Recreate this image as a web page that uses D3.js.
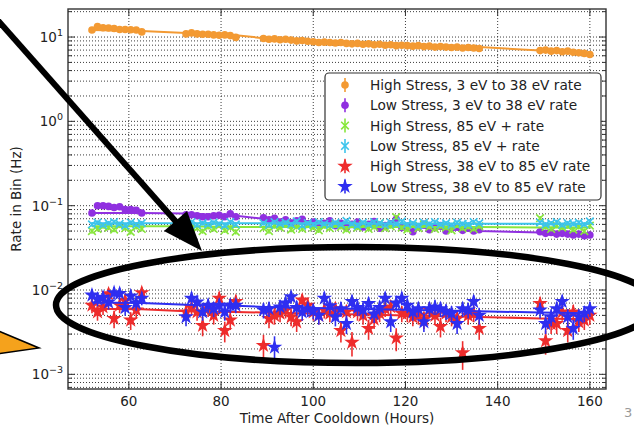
<!DOCTYPE html>
<html>
<head>
<meta charset="utf-8">
<script src="https://cdn.jsdelivr.net/npm/d3@7"></script>
<style>
  body { margin: 0; background: #fff; }
  text { font-family: "DejaVu Sans", sans-serif; }
</style>
</head>
<body>
<script>
// time bins (hours after cooldown)
const hours = [
  52.0, 53.2, 54.4, 55.6, 56.8, 58.0, 59.2, 60.4, 61.6, 62.8,
  72.4, 73.6, 74.8, 76.0, 77.2, 78.4, 79.6, 80.8, 82.0, 83.2,
  89.2, 90.4, 91.6, 92.8, 94.0, 95.2, 96.4, 97.6, 98.8, 100.0,
  101.2, 102.4, 103.6, 104.8, 106.0, 107.2, 108.4, 109.6, 110.8, 112.0,
  113.2, 114.4, 115.6, 116.8, 118.0, 119.2, 120.4, 121.6, 122.8, 124.0,
  125.2, 126.4, 127.6, 128.8, 130.0, 131.2, 132.4, 133.6, 134.8, 136.0,
  149.2, 150.4, 151.6, 152.8, 154.0, 155.2, 156.4, 157.6, 158.8, 160.0
];
const fitHours = [52.0, 62.8, 72.4, 83.2, 89.2, 136.0, 149.2, 160.0];

// rates (Hz)
const highLow = [
  12.1, 13.3, 12.9, 12.8, 12.6, 12.3, 12.3, 12.2, 12.1, 11.5,
  10.9, 11.2, 10.9, 10.8, 10.8, 10.6, 10.5, 10.6, 10.4, 9.9,
  9.6, 9.4, 9.5, 9.3, 9.4, 9.2, 9.0, 9.1, 8.9, 8.8,
  8.6, 8.7, 8.6, 8.5, 8.6, 8.4, 8.3, 8.4, 8.2, 8.3,
  8.1, 8.2, 8.0, 8.1, 7.9, 8.0, 7.9, 7.8, 7.9, 7.7,
  7.8, 7.6, 7.7, 7.6, 7.5, 7.6, 7.4, 7.5, 7.4, 7.3,
  6.9, 7.0, 6.8, 6.9, 6.7, 6.8, 6.6, 6.5, 6.4, 6.2
];
const lowLow = [
  0.082, 0.100, 0.100, 0.098, 0.095, 0.097, 0.090, 0.090, 0.088, 0.082,
  0.078, 0.078, 0.076, 0.074, 0.074, 0.076, 0.077, 0.074, 0.080, 0.074,
  0.072, 0.068, 0.071, 0.064, 0.068, 0.062, 0.066, 0.069, 0.061, 0.064,
  0.058, 0.062, 0.066, 0.058, 0.062, 0.055, 0.060, 0.064, 0.056, 0.060,
  0.065, 0.054, 0.058, 0.061, 0.069, 0.055, 0.057, 0.049, 0.056, 0.060,
  0.052, 0.055, 0.058, 0.050, 0.054, 0.056, 0.051, 0.054, 0.050, 0.052,
  0.049, 0.047, 0.048, 0.046, 0.047, 0.046, 0.045, 0.046, 0.044, 0.045
];
const highHigh = [
  0.050, 0.053, 0.057, 0.055, 0.052, 0.058, 0.054, 0.049, 0.056, 0.053,
  0.052, 0.057, 0.054, 0.050, 0.056, 0.053, 0.058, 0.051, 0.055, 0.049,
  0.054, 0.050, 0.057, 0.055, 0.060, 0.052, 0.056, 0.053, 0.058, 0.055,
  0.051, 0.057, 0.054, 0.060, 0.056, 0.052, 0.058, 0.055, 0.059, 0.053,
  0.056, 0.062, 0.054, 0.057, 0.073, 0.055, 0.052, 0.058, 0.054, 0.060,
  0.056, 0.053, 0.057, 0.055, 0.051, 0.058, 0.054, 0.056, 0.053, 0.057,
  0.071, 0.056, 0.053, 0.058, 0.055, 0.057, 0.052, 0.056, 0.050, 0.058
];
const lowHigh = [
  0.060, 0.063, 0.059, 0.062, 0.064, 0.061, 0.058, 0.063, 0.060, 0.062,
  0.061, 0.064, 0.059, 0.062, 0.060, 0.063, 0.061, 0.058, 0.064, 0.060,
  0.062, 0.059, 0.064, 0.061, 0.063, 0.060, 0.065, 0.058, 0.062, 0.060,
  0.064, 0.061, 0.059, 0.063, 0.060, 0.066, 0.061, 0.058, 0.063, 0.060,
  0.064, 0.062, 0.059, 0.063, 0.061, 0.065, 0.060, 0.062, 0.058, 0.063,
  0.061, 0.064, 0.060, 0.062, 0.059, 0.063, 0.061, 0.060, 0.064, 0.062,
  0.063, 0.060, 0.062, 0.064, 0.059, 0.062, 0.061, 0.063, 0.060, 0.065
];
const highMid = [
  0.0066, 0.0055, 0.0063, 0.0090, 0.0046, 0.0066, 0.0075, 0.0044, 0.0058, 0.0093,
  0.0055, 0.0062, 0.0055, 0.0038, 0.0060, 0.0050, 0.0080, 0.0033, 0.0044, 0.0073,
  0.0022, 0.0046, 0.0050, 0.0053, 0.0058, 0.0048, 0.0042, 0.0076, 0.0066, 0.0055,
  0.0050, 0.0058, 0.0053, 0.0060, 0.0033, 0.0055, 0.0024, 0.0055, 0.0050, 0.0035,
  0.0045, 0.0053, 0.0060, 0.0063, 0.0027, 0.0053, 0.0053, 0.0048, 0.0050, 0.0045,
  0.0058, 0.0050, 0.0037, 0.0053, 0.0048, 0.0046, 0.0018, 0.0050, 0.0053, 0.0035,
  0.0069, 0.0025, 0.0040, 0.0040, 0.0055, 0.0033, 0.0055, 0.0042, 0.0044, 0.0050
];
const lowMid = [
  0.0087, 0.0078, 0.0082, 0.0072, 0.0093, 0.0091, 0.0062, 0.0085, 0.0070, 0.0080,
  0.0048, 0.0080, 0.0072, 0.0055, 0.0066, 0.0060, 0.0066, 0.0055, 0.0066, 0.0066,
  0.0058, 0.0060, 0.0021, 0.0063, 0.0070, 0.0083, 0.0062, 0.0055, 0.0060, 0.0057,
  0.0050, 0.0080, 0.0065, 0.0048, 0.0060, 0.0040, 0.0073, 0.0062, 0.0058, 0.0069,
  0.0052, 0.0062, 0.0080, 0.0042, 0.0070, 0.0080, 0.0066, 0.0055, 0.0060, 0.0042,
  0.0060, 0.0063, 0.0060, 0.0056, 0.0053, 0.0040, 0.0060, 0.0058, 0.0073, 0.0050,
  0.0058, 0.0040, 0.0048, 0.0060, 0.0073, 0.0048, 0.0035, 0.0048, 0.0053, 0.0060
];

// fitted trend lines
const fitHighLow = [12.1, 11.8, 11.2, 10.5, 9.7, 7.6, 6.9, 6.3];
const fitLowLow = [0.082, 0.082, 0.081, 0.076, 0.070, 0.050, 0.048, 0.045];
const fitHighHigh = [0.057, 0.057, 0.057, 0.056, 0.056, 0.056, 0.055, 0.055];
const fitLowHigh = [0.062, 0.062, 0.062, 0.062, 0.062, 0.061, 0.061, 0.061];
const fitHighMid = [0.0060, 0.0059, 0.0056, 0.0055, 0.0054, 0.0048, 0.0046, 0.0045];
const fitLowMid = [0.0071, 0.0070, 0.0067, 0.0065, 0.0063, 0.0056, 0.0054, 0.0053];

const labels = [
  "High Stress, 3 eV to 38 eV rate",
  "Low Stress, 3 eV to 38 eV rate",
  "High Stress, 85 eV + rate",
  "Low Stress, 85 eV + rate",
  "High Stress, 38 eV to 85 eV rate",
  "Low Stress, 38 eV to 85 eV rate"
];
const xTicks = [60, 80, 100, 120, 140, 160];
const yExps = [-3, -2, -1, 0, 1];
const binSeconds = 4000;

const series = [
  {label: labels[0], vals: highLow, fit: fitHighLow, color: "#f39a33", mark: "o"},
  {label: labels[1], vals: lowLow, fit: fitLowLow, color: "#9030e0", mark: "o"},
  {label: labels[2], vals: highHigh, fit: fitHighHigh, color: "#88e63c", mark: "x"},
  {label: labels[3], vals: lowHigh, fit: fitLowHigh, color: "#3cc4ec", mark: "x"},
  {label: labels[4], vals: highMid, fit: fitHighMid, color: "#ee2c2c", mark: "*"},
  {label: labels[5], vals: lowMid, fit: fitLowMid, color: "#2e2ef0", mark: "*"}
];

const W = 634, H = 428;
const L = 68, R = 606, T = 9, B = 389;

const svg = d3.select("body").append("svg").attr("width", W).attr("height", H);

const x = d3.scaleLinear().domain([46.8, 163.5]).range([L, R]);
const y = d3.scaleLog().domain([6.7e-4, 21.5]).range([B, T]);

svg.append("defs").append("clipPath").attr("id", "clip")
  .append("rect").attr("x", L).attr("y", T).attr("width", R - L).attr("height", B - T);

// grid
const grid = svg.append("g").attr("stroke", "#000").attr("stroke-width", 0.9)
  .attr("stroke-dasharray", "1,2").attr("opacity", 0.85);
grid.selectAll(".gy").data(y.ticks()).join("line")
  .attr("x1", L).attr("x2", R).attr("y1", d => y(d)).attr("y2", d => y(d));
grid.selectAll(".gx").data(xTicks).join("line")
  .attr("y1", T).attr("y2", B).attr("x1", d => x(d)).attr("x2", d => x(d));

// marker shapes
const star = d3.symbol(d3.symbolStar, 75);
function drawMark(g, s, cx, cy) {
  if (s.mark === "o") {
    g.append("circle").attr("cx", cx).attr("cy", cy).attr("r", 3.8).attr("fill", s.color);
  } else if (s.mark === "x") {
    const r = 3.8;
    g.append("path").attr("d", `M${cx - r},${cy - r}L${cx + r},${cy + r}M${cx - r},${cy + r}L${cx + r},${cy - r}`)
      .attr("stroke", s.color).attr("stroke-width", 1.6).attr("fill", "none");
  } else {
    g.append("path").attr("d", star()).attr("transform", `translate(${cx},${cy})`).attr("fill", s.color);
  }
}

const plot = svg.append("g").attr("clip-path", "url(#clip)");
series.forEach(s => {
  const g = plot.append("g");
  s.vals.forEach((v, i) => {
    const rel = 1 / Math.sqrt(v * binSeconds);
    g.append("line").attr("x1", x(hours[i])).attr("x2", x(hours[i]))
      .attr("y1", y(v * (1 + rel))).attr("y2", y(v * (1 - rel)))
      .attr("stroke", s.color).attr("stroke-width", 1.6);
    drawMark(g, s, x(hours[i]), y(v));
  });
  g.append("path")
    .datum(s.fit.map((v, i) => [fitHours[i], v]))
    .attr("d", d3.line().x(d => x(d[0])).y(d => y(d[1])))
    .attr("fill", "none").attr("stroke", s.color).attr("stroke-width", 2);
});

// frame and ticks
const axis = svg.append("g").attr("stroke", "#333").attr("stroke-width", 1);
y.ticks().forEach(v => {
  const major = Math.abs(Math.log10(v) - Math.round(Math.log10(v))) < 1e-9;
  const len = major ? 7 : 4;
  axis.append("line").attr("x1", L).attr("x2", L + len).attr("y1", y(v)).attr("y2", y(v));
  axis.append("line").attr("x1", R).attr("x2", R - len).attr("y1", y(v)).attr("y2", y(v));
});
xTicks.forEach(v => {
  axis.append("line").attr("x1", x(v)).attr("x2", x(v)).attr("y1", B).attr("y2", B - 7);
  axis.append("line").attr("x1", x(v)).attr("x2", x(v)).attr("y1", T).attr("y2", T + 7);
});
svg.append("rect").attr("x", L).attr("y", T).attr("width", R - L).attr("height", B - T)
  .attr("fill", "none").attr("stroke", "#333").attr("stroke-width", 1.4);

// tick labels
svg.append("g").selectAll("text").data(xTicks).join("text")
  .attr("x", d => x(d)).attr("y", B + 17).attr("text-anchor", "middle")
  .attr("font-size", 13.5).attr("fill", "#222").text(d => d);

const yl = svg.append("g").selectAll("text").data(yExps).join("text")
  .attr("x", L - 5).attr("y", d => y(Math.pow(10, d)) + 5).attr("text-anchor", "end")
  .attr("font-size", 13.5).attr("fill", "#222");
yl.append("tspan").text("10");
yl.append("tspan").attr("dy", -6).attr("font-size", 9.5)
  .text(d => (d < 0 ? "\u2212" : "") + Math.abs(d));

svg.append("text").attr("x", (L + R) / 2).attr("y", 423).attr("text-anchor", "middle")
  .attr("font-size", 13.5).attr("fill", "#222").text("Time After Cooldown (Hours)");
svg.append("text").attr("transform", `translate(21,${(T + B) / 2}) rotate(-90)`)
  .attr("text-anchor", "middle").attr("font-size", 13.5).attr("fill", "#222")
  .text("Rate in Bin (Hz)");

// legend
const leg = svg.append("g");
leg.append("rect").attr("x", 325).attr("y", 73).attr("width", 276).attr("height", 127)
  .attr("rx", 4).attr("fill", "#fff").attr("stroke", "#333").attr("stroke-width", 1.2);
series.forEach((s, i) => {
  const cy = 85 + i * 20.3;
  leg.append("line").attr("x1", 345).attr("x2", 345).attr("y1", cy - 7).attr("y2", cy + 7)
    .attr("stroke", s.color).attr("stroke-width", 1.6);
  drawMark(leg, s, 345, cy);
  leg.append("text").attr("x", 370).attr("y", cy + 5).attr("font-size", 13.7)
    .attr("fill", "#222").text(s.label);
});

// slide annotations
const ann = svg.append("g");
ann.append("ellipse").attr("cx", 356).attr("cy", 305).attr("rx", 300).attr("ry", 58)
  .attr("fill", "none").attr("stroke", "#000").attr("stroke-width", 6.5);
ann.append("line").attr("x1", -6).attr("y1", 16).attr("x2", 178).attr("y2", 224)
  .attr("stroke", "#000").attr("stroke-width", 6);
ann.append("polygon").attr("points", "202,251 164,231 187,211").attr("fill", "#000");
ann.append("polygon").attr("points", "-4,330 39,348 -4,354")
  .attr("fill", "#f5a21c").attr("stroke", "#000").attr("stroke-width", 1.5);
ann.append("text").attr("x", 624).attr("y", 417).attr("font-size", 13).attr("fill", "#999").text("3");
</script>
</body>
</html>
